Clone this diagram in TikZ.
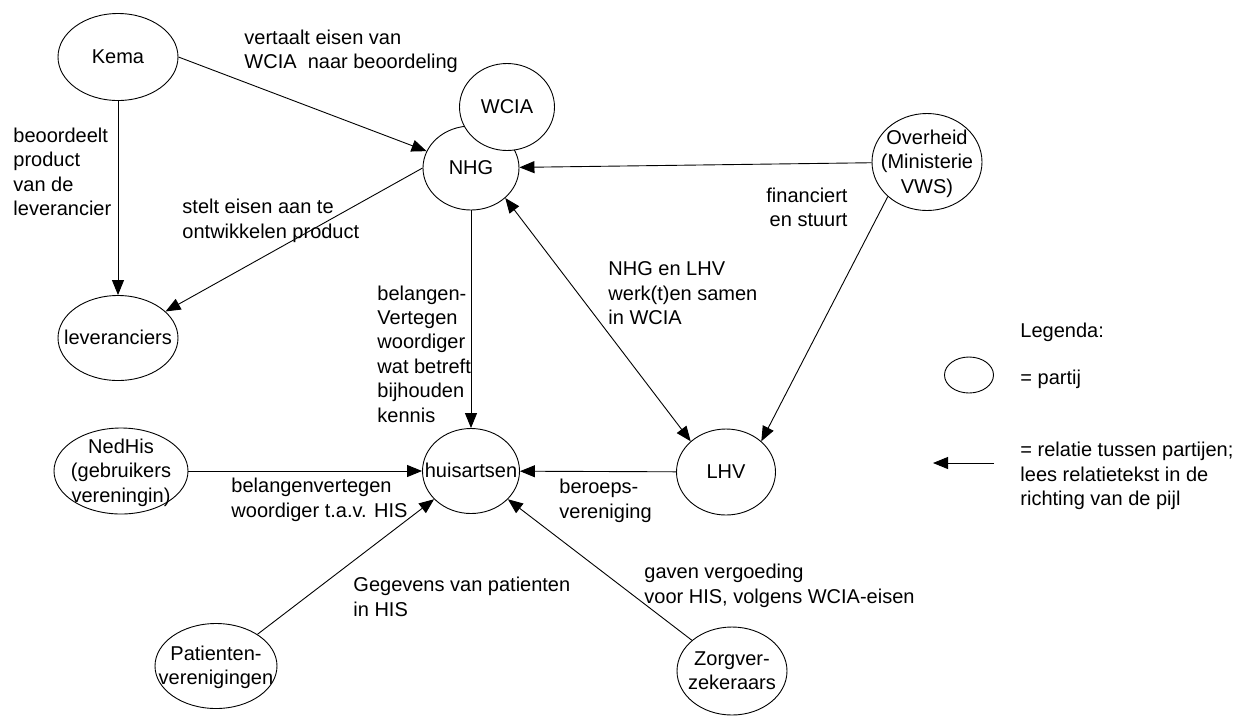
\documentclass[tikz,border=0pt]{standalone}
\usepackage{fontspec}
\setmainfont{Liberation Sans}
\usetikzlibrary{shapes.geometric,arrows.meta}
% text in a party ellipse, without growing the ellipse
\newcommand{\ptext}[1]{\smash{\makebox[0pt]{\raisebox{-7pt}{\begin{tabular}{@{}c@{}}#1\end{tabular}}}}}

\begin{document}
\begin{tikzpicture}[x = 1pt, y = -1pt, ->, >= {Triangle[length = 15pt, width = 12pt]}, line width = 0.9pt,
		font = \fontsize{20}{24.4}\selectfont,
		partij/.style = { draw, ellipse, inner sep = 0pt },
		rel/.style = { align = left, inner sep = 0pt }]
	\useasboundingbox (0,0) rectangle (1235,716);
	% partijen
	\node[partij, minimum width = 120pt, minimum height = 87pt] (kema) at (118,57) {\ptext{Kema}};
	\node[partij, minimum width = 96pt, minimum height = 84pt] (nhg) at (471,168) {\ptext{NHG}};
	\node[partij, fill = white, minimum width = 95pt, minimum height = 87pt] (wcia) at (507,107) {\ptext{WCIA}};
	\node[partij, minimum width = 110pt, minimum height = 97pt] (ovh) at (927,162) {\ptext{Overheid\\(Ministerie\\VWS)}};
	\node[partij, minimum width = 120pt, minimum height = 85pt] (lev) at (118,338) {\ptext{leveranciers}};
	\node[partij, minimum width = 97pt, minimum height = 85pt] (huis) at (471,471) {\ptext{huisartsen}};
	\node[partij, minimum width = 99pt, minimum height = 86pt] (lhv) at (726,472) {\ptext{LHV}};
	\node[partij, minimum width = 134pt, minimum height = 86pt] (ned) at (121,471) {\ptext{NedHis\\(gebruikers\\vereningin)}};
	\node[partij, minimum width = 122pt, minimum height = 85pt] (pat) at (216,666) {\ptext{Patienten-\\verenigingen}};
	\node[partij, minimum width = 110pt, minimum height = 88pt] (zorg) at (732,671) {\ptext{Zorgver-\\zekeraars}};
	% relaties
	\node[rel, anchor = west] (vert) at (244,51.5) {vertaalt eisen van\\WCIA\ \ naar beoordeling};
	\node[rel, anchor = west] (beoor) at (13,172) {beoordeelt\\product\\van de\\leverancier};
	\node[rel, anchor = west] (stelt) at (182,221) {stelt eisen aan te\\ontwikkelen product};
	\node[rel, align = right, anchor = east] (fin) at (848,207.5) {financiert\\en stuurt};
	\node[rel, anchor = west] (samen) at (608,293.5) {NHG en LHV\\werk(t)en samen\\in WCIA};
	\node[rel, anchor = west] (kennis) at (377,354) {belangen-\\Vertegen\\woordiger\\wat betreft\\bijhouden\\kennis};
	\node[rel, anchor = west] (his) at (231,500) {belangenvertegen\\woordiger t.a.v. HIS};
	\node[rel, anchor = west] (beroep) at (559,501) {beroeps-\\vereniging};
	\node[rel, anchor = west] (geg) at (353,597) {Gegevens van patienten\\in HIS};
	\node[rel, anchor = west] (gaven) at (644,586) {gaven vergoeding\\voor HIS, volgens WCIA-eisen};
	\draw (kema.east) to (nhg);
	\draw (kema) to (lev);
	\draw (nhg.west) to (lev);
	\draw (ovh) to (nhg);
	\draw (ovh.south west) to (lhv.north east);
	\draw[<->] (nhg.south east) to (lhv.north west);
	\draw (nhg) to (huis);
	\draw (ned) to (huis);
	\draw (lhv) to (huis);
	\draw (pat) to (huis);
	\draw (zorg) to (huis);
	% legenda
	\node[rel, anchor = west] (legenda) at (1020,332) {Legenda:};
	\node[partij, minimum width = 49pt, minimum height = 36pt] (legpartij) at (969,375) {};
	\node[rel, anchor = west] (legp) at (1020,379) {= partij};
	\node[rel, anchor = west] (legr) at (1020,476) {= relatie tussen partijen;\\lees relatietekst in de\\richting van de pijl};
	\coordinate (pa) at (994,463);
	\coordinate (pb) at (933,463);
	\draw (pa) to (pb);
\end{tikzpicture}
\end{document}
